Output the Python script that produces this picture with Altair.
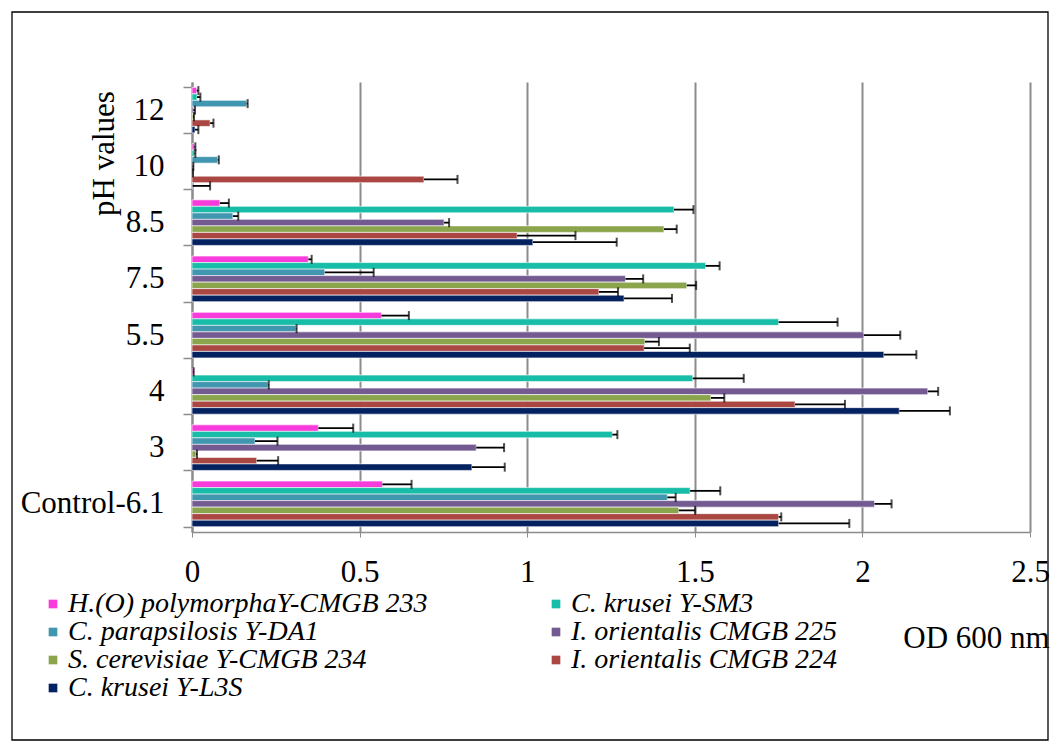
import altair as alt
import pandas as pd

# categories (bottom to top in the picture)
categories = ["Control-6.1", "3", "4", "5.5", "7.5", "8.5", "10", "12"]

# series, top-to-bottom order inside each group
series = [
    "H.(O) polymorphaY-CMGB 233",
    "C. krusei Y-SM3",
    "C. parapsilosis Y-DA1",
    "I. orientalis CMGB 225",
    "S. cerevisiae Y-CMGB 234",
    "\u00a0I. orientalis CMGB 224",
    "C. krusei Y-L3S",
]
colors = ["#F83CDB", "#17BDA7", "#4297B0", "#735A91", "#8AA54B", "#AA4743", "#042160"]

# legend is filled column by column (2 columns, 4 rows)
legend_order = [0, 2, 4, 6, 1, 3, 5]

# mean OD 600 values, per category (Control-6.1, 3, 4, 5.5, 7.5, 8.5, 10, 12)
h_polymorpha_233 = [0.568, 0.377, 0.003, 0.565, 0.347, 0.083, 0.007, 0.014]
c_krusei_sm3 = [1.486, 1.254, 1.494, 1.750, 1.532, 1.438, 0.007, 0.015]
c_parapsilosis_da1 = [1.418, 0.188, 0.227, 0.310, 0.396, 0.122, 0.077, 0.163]
i_orientalis_225 = [2.036, 0.848, 2.195, 2.004, 1.293, 0.752, 0.002, 0.004]
s_cerevisiae_234 = [1.452, 0.012, 1.548, 1.351, 1.476, 1.408, 0.002, 0.003]
i_orientalis_224 = [1.750, 0.193, 1.799, 1.349, 1.214, 0.970, 0.692, 0.054]
c_krusei_l3s = [1.750, 0.835, 2.110, 2.064, 1.289, 1.017, 0.002, 0.009]

# error bar lengths (positive side only)
err_h_polymorpha_233 = [0.087, 0.104, 0.002, 0.082, 0.010, 0.027, 0.003, 0.005]
err_c_krusei_sm3 = [0.090, 0.015, 0.152, 0.176, 0.042, 0.058, 0.003, 0.010]
err_c_parapsilosis_da1 = [0.025, 0.067, 0.002, 0.002, 0.146, 0.016, 0.003, 0.003]
err_i_orientalis_225 = [0.051, 0.083, 0.031, 0.109, 0.053, 0.015, 0.002, 0.005]
err_s_cerevisiae_234 = [0.049, 0.003, 0.040, 0.042, 0.028, 0.038, 0.001, 0.003]
err_i_orientalis_224 = [0.008, 0.064, 0.149, 0.136, 0.057, 0.174, 0.100, 0.010]
err_c_krusei_l3s = [0.211, 0.098, 0.151, 0.097, 0.143, 0.250, 0.052, 0.010]

x_ticks = [0, 0.5, 1, 1.5, 2, 2.5]

means = [h_polymorpha_233, c_krusei_sm3, c_parapsilosis_da1, i_orientalis_225,
         s_cerevisiae_234, i_orientalis_224, c_krusei_l3s]
errs = [err_h_polymorpha_233, err_c_krusei_sm3, err_c_parapsilosis_da1, err_i_orientalis_225,
        err_s_cerevisiae_234, err_i_orientalis_224, err_c_krusei_l3s]

rows = []
for s, m_list, e_list in zip(series, means, errs):
    for c, m, e in zip(categories, m_list, e_list):
        rows.append({"pH": c, "strain": s, "od": m, "hi": m + e})
df = pd.DataFrame(rows)

FONT = "Liberation Serif"
y_order = list(reversed(categories))
legend_domain = [series[i] for i in legend_order]
legend_range = [colors[i] for i in legend_order]

y_enc = alt.Y("pH:N", sort=y_order, title="pH values",
              scale=alt.Scale(paddingInner=0.19, paddingOuter=0.095))
yoff = alt.YOffset("strain:N", sort=series)
x_scale = alt.Scale(domain=[0, 2.5], nice=False, zero=True)
x_axis = alt.Axis(values=x_ticks, format="~g")

base = alt.Chart(df)

bars = base.mark_bar(stroke="white", strokeWidth=0.6).encode(
    x=alt.X("od:Q", scale=x_scale, axis=x_axis, title="OD 600 nm"),
    y=y_enc,
    yOffset=yoff,
    color=alt.Color(
        "strain:N",
        scale=alt.Scale(domain=legend_domain, range=legend_range),
        legend=alt.Legend(
            orient="none", legendX=-153, legendY=508, columns=2,
            columnPadding=114, rowPadding=0,
            symbolType="square",
            symbolSize=75, symbolStrokeWidth=0, labelFont=FONT,
            labelFontSize=28, labelFontStyle="italic", labelLimit=700,
            labelOffset=1, title=None, padding=0, labelColor="black",
        ),
    ),
)

err_lines = base.mark_rule(color="black", strokeWidth=1.8).encode(
    x=alt.X("od:Q", scale=x_scale, axis=x_axis, title="OD 600 nm"),
    x2="hi:Q",
    y=y_enc,
    yOffset=yoff,
)

caps = base.mark_tick(color="black", thickness=2, size=9, orient="vertical").encode(
    x=alt.X("hi:Q", scale=x_scale, axis=x_axis, title="OD 600 nm"),
    y=y_enc,
    yOffset=yoff,
)

frame = alt.Chart(pd.DataFrame({"a": [0]})).mark_rect(
    filled=False, stroke="black", strokeWidth=1.3
).encode(
    x=alt.value(-180), x2=alt.value(856), y=alt.value(-70), y2=alt.value(658)
)

chart = alt.layer(bars, err_lines, caps, frame).properties(
    width=838,
    height=450,
    padding={"left": 184, "top": 74, "right": 22, "bottom": 210},
    autosize=alt.AutoSizeParams(type="none"),
    background="white",
).configure_view(
    strokeWidth=0
).configure_legend(
    labelFont=FONT,
    labelFontStyle="italic",
    labelFontSize=28,
).configure_axisX(
    grid=True,
    gridColor="#8c8c8c",
    gridWidth=2,
    domainColor="#8c8c8c",
    domainWidth=1.5,
    tickColor="#8c8c8c",
    tickSize=5,
    labelPadding=20,
    labelFont=FONT,
    labelFontSize=31,
    labelColor="black",
    labelFlush=False,
    titleFont=FONT,
    titleFontSize=31,
    titleFontWeight="normal",
    titleColor="black",
    titleX=784,
    titleY=106,
    titleAlign="center",
    titleBaseline="middle",
).configure_axisY(
    tickBand="extent",
    grid=False,
    domainColor="#8c8c8c",
    domainWidth=2,
    tickColor="#8c8c8c",
    tickWidth=1.5,
    tickSize=9,
    labelPadding=19,
    labelFont=FONT,
    labelFontSize=31,
    labelColor="black",
    titleFont=FONT,
    titleFontSize=31,
    titleFontWeight="normal",
    titleColor="black",
    titleAngle=270,
    titleX=-88,
    titleY=71,
    titleAlign="center",
    titleBaseline="middle",
)

chart.save("out.html", embed_options={"renderer": "svg", "actions": False})
